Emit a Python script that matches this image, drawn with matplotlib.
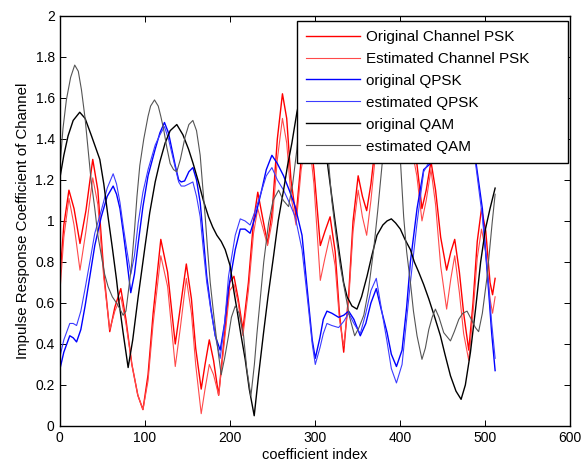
import matplotlib
matplotlib.use("Agg")
import matplotlib.pyplot as plt

plt.rcParams['font.family'] = ['Liberation Sans', 'DejaVu Sans']

# ---- data ----
psk_x = [0, 5, 11, 17, 24, 31, 39, 45, 52, 59, 65, 72, 78, 85, 92, 98, 104, 110, 119, 127,
         136, 142, 149, 155, 160, 166.5, 171, 176, 181, 187, 194, 200, 205, 210, 215.5, 222,
         228, 233, 238, 244.5, 250, 256, 262, 267, 272, 278, 284, 292, 299, 306.5, 312, 318,
         324, 329, 334, 340, 345, 351, 356, 361, 366, 372, 380, 393, 405, 414, 420, 426, 431,
         436.6, 442, 448, 455, 460, 464.5, 470, 475, 481, 486, 491, 496, 501, 506, 509, 512]
psk_orig = [0.70, 0.98, 1.15, 1.06, 0.89, 1.05, 1.30, 1.15, 0.75, 0.46, 0.58, 0.67, 0.52, 0.30,
            0.15, 0.08, 0.25, 0.55, 0.91, 0.75, 0.40, 0.58, 0.79, 0.62, 0.38, 0.18, 0.30, 0.42,
            0.32, 0.15, 0.45, 0.70, 0.73, 0.62, 0.47, 0.70, 1.00, 1.14, 1.03, 0.89, 1.05, 1.40,
            1.62, 1.50, 1.20, 1.02, 1.30, 1.50, 1.25, 0.88, 0.95, 1.02, 0.85, 0.55, 0.36, 0.65,
            1.00, 1.22, 1.12, 1.05, 1.18, 1.40, 1.60, 1.55, 1.50, 1.40, 1.28, 1.06, 1.15, 1.29,
            1.15, 0.92, 0.76, 0.85, 0.91, 0.75, 0.55, 0.37, 0.60, 0.90, 1.06, 0.95, 0.70, 0.64,
            0.72]
psk_est = [0.63, 0.92, 1.11, 0.98, 0.76, 0.95, 1.21, 1.08, 0.72, 0.47, 0.56, 0.63, 0.50, 0.30,
           0.15, 0.08, 0.22, 0.50, 0.83, 0.68, 0.29, 0.48, 0.72, 0.55, 0.30, 0.06, 0.18, 0.30,
           0.25, 0.15, 0.42, 0.66, 0.69, 0.60, 0.44, 0.66, 0.94, 1.06, 0.98, 0.88, 1.00, 1.30,
           1.50, 1.38, 1.12, 0.98, 1.25, 1.45, 1.18, 0.71, 0.82, 0.93, 0.78, 0.52, 0.39, 0.62,
           0.95, 1.15, 1.02, 0.93, 1.10, 1.35, 1.55, 1.50, 1.45, 1.35, 1.22, 1.00, 1.10, 1.25,
           1.08, 0.78, 0.57, 0.72, 0.83, 0.65, 0.45, 0.32, 0.55, 0.82, 0.96, 0.85, 0.62, 0.55,
           0.63]

qpsk_x = [0, 5, 12, 16, 20, 25, 30, 36, 41.4, 49, 56, 63, 67, 71, 75, 79, 83.7, 88, 92.4, 98,
          104, 112.4, 118, 123.3, 128, 132, 136, 140, 143, 147, 152, 156.7, 161, 165.3, 169,
          173, 178, 183, 188.8, 194, 198.6, 206.5, 212.4, 218, 224, 230, 237, 243, 249.6, 256,
          263.3, 270, 277, 285, 292.7, 297, 300.6, 306, 310, 314.3, 320, 328, 334, 339.8, 346,
          353.5, 360, 366, 372.3, 378, 385, 390, 396, 402.6, 408, 412.4, 420.2, 428, 436, 445,
          465, 480, 489, 497, 504.5, 508, 512]
qpsk_orig = [0.27, 0.36, 0.44, 0.43, 0.41, 0.47, 0.585, 0.74, 0.88, 1.02, 1.12, 1.17, 1.13,
             1.06, 0.94, 0.81, 0.65, 0.74, 0.89, 1.07, 1.22, 1.35, 1.43, 1.48, 1.43, 1.35, 1.27,
             1.20, 1.19, 1.195, 1.24, 1.26, 1.20, 1.09, 0.92, 0.73, 0.57, 0.44, 0.37, 0.50, 0.67,
             0.86, 0.96, 0.96, 0.94, 1.02, 1.14, 1.25, 1.32, 1.28, 1.22, 1.15, 1.07, 0.93, 0.60,
             0.42, 0.33, 0.43, 0.52, 0.56, 0.55, 0.53, 0.54, 0.56, 0.52, 0.44, 0.50, 0.60, 0.67,
             0.57, 0.455, 0.35, 0.29, 0.37, 0.58, 0.80, 1.06, 1.25, 1.28, 1.40, 1.55, 1.45, 1.30,
             1.06, 0.65, 0.45, 0.27]
qpsk_est = [0.33, 0.42, 0.50, 0.50, 0.49, 0.56, 0.67, 0.81, 0.94, 1.05, 1.16, 1.23, 1.18,
            1.09, 0.97, 0.86, 0.74, 0.83, 0.99, 1.14, 1.25, 1.37, 1.42, 1.46, 1.40, 1.33, 1.26,
            1.19, 1.17, 1.17, 1.18, 1.19, 1.12, 1.02, 0.86, 0.70, 0.56, 0.44, 0.33, 0.50, 0.73,
            0.93, 1.01, 1.00, 0.98, 1.05, 1.14, 1.22, 1.26, 1.20, 1.15, 1.09, 1.02, 0.86, 0.57,
            0.40, 0.30, 0.38, 0.45, 0.50, 0.49, 0.48, 0.51, 0.55, 0.50, 0.45, 0.55, 0.66, 0.72,
            0.58, 0.41, 0.28, 0.21, 0.30, 0.52, 0.70, 0.99, 1.24, 1.30, 1.40, 1.52, 1.42, 1.28,
            1.02, 0.68, 0.50, 0.33]

qam_x = [0, 5, 10, 16, 23.7, 30, 37.5, 47.3, 52, 57, 62, 66.9, 70, 74.7, 80.6, 86, 92.4,
         100.6, 106, 112.4, 118, 124.1, 130, 137.8, 145, 151.6, 157, 163.3, 169, 175.1, 180,
         184.9, 190, 194.7, 200.6, 204, 208.4, 213, 218.2, 223, 228.8, 234, 239.8, 245, 251.6,
         257, 263.3, 268, 273.1, 279, 287, 296, 304, 310, 314.3, 319, 324.1, 329, 333.9, 338,
         343.7, 349.6, 355, 361.4, 367, 373.1, 380, 385, 390, 395, 400.6, 406, 412.4, 417,
         422.2, 428, 434, 441, 447.7, 453, 459.5, 466, 472, 477, 483, 489, 495, 500.6, 506, 512]
qam_orig = [1.20, 1.32, 1.415, 1.49, 1.53, 1.50, 1.415, 1.30, 1.18, 1.02, 0.87, 0.715, 0.60,
            0.455, 0.285, 0.42, 0.63, 0.88, 1.04, 1.19, 1.29, 1.38, 1.44, 1.47, 1.42, 1.35,
            1.28, 1.19, 1.10, 1.02, 0.97, 0.93, 0.90, 0.86, 0.78, 0.68, 0.57, 0.45, 0.325, 0.18,
            0.05, 0.25, 0.455, 0.63, 0.83, 1.00, 1.15, 1.27, 1.38, 1.53, 1.68, 1.70, 1.58, 1.42,
            1.30, 1.15, 0.99, 0.84, 0.70, 0.63, 0.585, 0.57, 0.63, 0.73, 0.83, 0.93, 0.98, 1.00,
            1.01, 0.99, 0.96, 0.91, 0.86, 0.80, 0.75, 0.69, 0.62, 0.53, 0.44, 0.35, 0.245, 0.17,
            0.13, 0.20, 0.36, 0.57, 0.80, 0.96, 1.06, 1.16]

qam_est_x = [0, 4, 8, 13, 17.8, 22, 25.7, 30, 33.5, 37, 41.4, 45, 49.2, 53, 57, 62, 66.9, 71,
             74.7, 78, 81, 84.5, 88, 91, 94.3, 99, 104, 107, 111.6, 116, 119, 122.2, 126, 130,
             134, 137.8, 142, 147.6, 152, 156.7, 161, 165.3, 168, 171.2, 174, 177.1, 181, 184.9,
             190, 194, 198.6, 202, 206.5, 211, 216.3, 220, 224.9, 229, 232, 235.9, 240, 245.7,
             251, 257.5, 263, 269.2, 274, 279, 285, 292, 300, 308, 316, 320, 325, 330, 335.9,
             341, 346.9, 352, 357.6, 363, 369.2, 374, 379, 387, 395, 400.6, 404.5, 408, 412.4,
             416, 420.2, 426, 430, 434, 438, 441.8, 446, 451.6, 459.5, 464, 469.3, 474, 479, 484,
             488.8, 492.6, 497, 502.6, 508.5, 512]
qam_est = [1.24, 1.45, 1.59, 1.70, 1.76, 1.73, 1.64, 1.50, 1.35, 1.20, 1.06, 0.93, 0.83, 0.74,
           0.68, 0.63, 0.60, 0.57, 0.54, 0.56, 0.66, 0.78, 0.95, 1.12, 1.27, 1.40, 1.51, 1.56,
           1.59, 1.56, 1.51, 1.45, 1.36, 1.28, 1.25, 1.24, 1.30, 1.41, 1.47, 1.49, 1.44, 1.32,
           1.18, 1.02, 0.86, 0.70, 0.55, 0.41, 0.25, 0.33, 0.44, 0.53, 0.585, 0.55, 0.44, 0.28,
           0.146, 0.30, 0.45, 0.62, 0.80, 0.99, 1.10, 1.15, 1.10, 1.07, 1.18, 1.35, 1.65, 1.80,
           1.70, 1.50, 1.30, 1.10, 0.93, 0.78, 0.645, 0.53, 0.44, 0.48, 0.54, 0.66, 0.86, 1.05,
           1.27, 1.55, 1.55, 1.30, 1.02, 0.85, 0.70, 0.56, 0.44, 0.325, 0.38, 0.47, 0.53, 0.57,
           0.53, 0.455, 0.415, 0.46, 0.52, 0.55, 0.56, 0.52, 0.48, 0.46, 0.55, 0.73, 0.99, 1.13]

labels = ["Original Channel PSK", "Estimated Channel PSK", "original QPSK",
          "estimated QPSK", "original QAM", "estimated QAM"]
xticks = [0, 100, 200, 300, 400, 500, 600]
yticks = [0, 0.2, 0.4, 0.6, 0.8, 1.0, 1.2, 1.4, 1.6, 1.8, 2.0]

fig = plt.figure(figsize=(5.84, 4.69), dpi=100)
ax = fig.add_axes([0.102, 0.0917, 0.874, 0.8745])

ax.plot(psk_x, psk_orig, color='#ff0000', lw=1.0, label=labels[0])
ax.plot(psk_x, psk_est, color='#ff4a4a', lw=0.8, label=labels[1])
ax.plot(qpsk_x, qpsk_orig, color='#0000ff', lw=1.0, label=labels[2])
ax.plot(qpsk_x, qpsk_est, color='#3c3cff', lw=0.8, label=labels[3])
ax.plot(qam_x, qam_orig, color='#000000', lw=1.0, label=labels[4])
ax.plot(qam_est_x, qam_est, color='#555555', lw=0.8, label=labels[5])

ax.set_xlim(0, 600)
ax.set_ylim(0, 2)
ax.set_xticks(xticks)
ax.set_yticks(yticks)
ax.set_yticklabels(['%g' % v for v in yticks])
ax.tick_params(direction='in', top=True, right=True, labelsize=10, length=4, width=0.7)
for s in ax.spines.values():
    s.set_linewidth(1.0)

ax.set_xlabel('coefficient index', fontsize=10.5, labelpad=2)
ax.set_ylabel('Impulse Response Coefficient of Channel', fontsize=10.8, labelpad=4)

leg = ax.legend(loc='upper left', bbox_to_anchor=(0.465, 0.0, 0.531, 0.988), mode='expand',
                borderaxespad=0, fontsize=11, handlelength=3.5, handletextpad=0.45,
                labelspacing=0.52, fancybox=False, framealpha=1, edgecolor='black',
                borderpad=0.6)
leg.get_frame().set_linewidth(1.0)

fig.savefig('out.png', dpi=100)
